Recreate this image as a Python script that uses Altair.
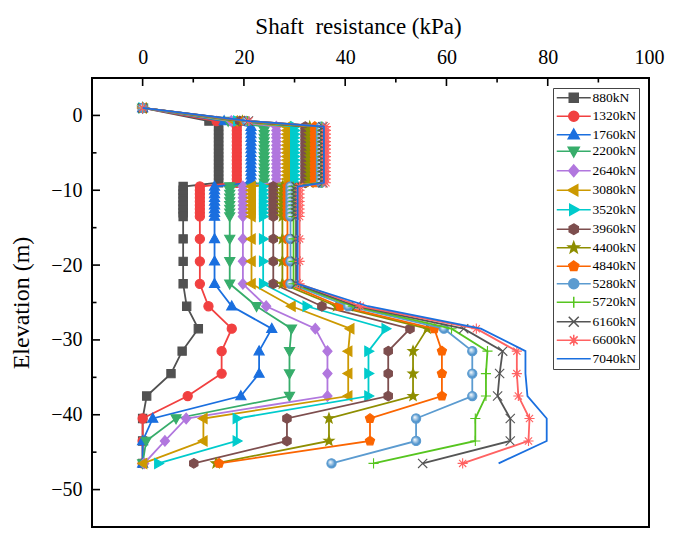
import altair as alt
import pandas as pd

loads = ["880kN", "1320kN", "1760kN", "2200kN", "2640kN", "3080kN", "3520kN", "3960kN",
         "4400kN", "4840kN", "5280kN", "5720kN", "6160kN", "6600kN", "7040kN"]
colors = ["#515151", "#F14040", "#1A6FDF", "#37AD6B", "#B177DE", "#CC9900", "#00CBCC", "#7D4E4E",
          "#8E8E00", "#FB6501", "#5B9BD0", "#56C51F", "#555555", "#FF6262", "#1A6FDF"]

elevations = [1.0, -0.75,
              -1.5, -2.0, -2.5, -3.0, -3.5, -4.0, -4.5, -5.0, -5.5, -6.0, -6.5, -7.0, -7.5, -8.0, -8.5, -9.0,
              -9.5, -10.0, -10.5, -11.0, -11.5, -12.0, -12.5, -13.0, -13.5,
              -16.5, -19.5, -22.5, -25.5, -28.5, -31.5, -34.5, -37.5, -40.5, -43.5, -46.5]

s880 = [0.0, 13.1,
        15.0, 15.0, 15.0, 15.0, 15.0, 15.0, 15.0, 15.0, 15.0, 15.0, 15.0, 15.0, 15.0, 15.0, 15.0, 15.0,
        8.0, 8.0, 8.0, 8.0, 8.0, 8.0, 8.0, 8.0, 8.0,
        8.0, 8.0, 8.0, 8.7, 11.0, 7.8, 5.6, 0.8, 0.0, 0.0, 0.0]
s1320 = [0.0, 14.6,
         18.6, 18.6, 18.6, 18.6, 18.6, 18.6, 18.6, 18.6, 18.6, 18.6, 18.6, 18.6, 18.6, 18.6, 18.6, 18.6,
         11.3, 11.3, 11.3, 11.3, 11.3, 11.3, 11.3, 11.3, 11.3,
         11.3, 11.3, 11.3, 13.0, 17.6, 15.6, 15.6, 8.9, 0.0, 0.0, 0.0]
s1760 = [0.0, 16.1,
         21.4, 21.4, 21.4, 21.4, 21.4, 21.4, 21.4, 21.4, 21.4, 21.4, 21.4, 21.4, 21.4, 21.4, 21.4, 21.4,
         14.2, 14.2, 14.2, 14.2, 14.2, 14.2, 14.2, 14.2, 14.2,
         14.2, 14.2, 14.2, 17.6, 25.5, 23.0, 23.0, 19.4, 2.0, 0.0, 0.0]
s2200 = [0.0, 16.9,
         24.0, 24.0, 24.0, 24.0, 24.0, 24.0, 24.0, 24.0, 24.0, 24.0, 24.0, 24.0, 24.0, 24.0, 24.0, 24.0,
         17.2, 17.2, 17.2, 17.2, 17.2, 17.2, 17.2, 17.2, 17.2,
         17.2, 17.2, 17.2, 22.5, 29.4, 29.0, 29.0, 29.0, 6.6, 0.7, 0.0]
s2640 = [0.0, 17.5,
         26.4, 26.4, 26.4, 26.4, 26.4, 26.4, 26.4, 26.4, 26.4, 26.4, 26.4, 26.4, 26.4, 26.4, 26.4, 26.4,
         19.8, 19.8, 19.8, 19.8, 19.8, 19.8, 19.8, 19.8, 19.8,
         19.8, 19.8, 19.8, 24.4, 34.1, 36.5, 36.5, 36.5, 8.6, 4.4, 0.3]
s3080 = [0.0, 18.0,
         28.5, 28.5, 28.5, 28.5, 28.5, 28.5, 28.5, 28.5, 28.5, 28.5, 28.5, 28.5, 28.5, 28.5, 28.5, 28.5,
         21.5, 21.5, 21.5, 21.5, 21.5, 21.5, 21.5, 21.5, 21.5,
         21.5, 21.5, 21.5, 29.4, 41.0, 40.6, 40.6, 40.6, 12.0, 12.0, 0.1]
s3520 = [0.0, 18.7,
         30.0, 30.0, 30.0, 30.0, 30.0, 30.0, 30.0, 30.0, 30.0, 30.0, 30.0, 30.0, 30.0, 30.0, 30.0, 30.0,
         23.8, 23.8, 23.8, 23.8, 23.8, 23.8, 23.8, 23.8, 23.8,
         23.8, 23.8, 23.8, 32.4, 48.0, 44.6, 44.6, 44.6, 18.6, 18.6, 3.1]
s3960 = [0.0, 19.2,
         32.1, 32.1, 32.1, 32.1, 32.1, 32.1, 32.1, 32.1, 32.1, 32.1, 32.1, 32.1, 32.1, 32.1, 32.1, 32.1,
         25.8, 25.8, 25.8, 25.8, 25.8, 25.8, 25.8, 25.8, 25.8,
         25.8, 25.8, 25.8, 35.4, 52.8, 48.5, 48.5, 48.5, 28.5, 28.5, 10.1]
s4400 = [0.0, 19.7,
         33.0, 33.0, 33.0, 33.0, 33.0, 33.0, 33.0, 33.0, 33.0, 33.0, 33.0, 33.0, 33.0, 33.0, 33.0, 33.0,
         27.6, 27.6, 27.6, 27.6, 27.6, 27.6, 27.6, 27.6, 27.6,
         27.6, 27.6, 27.6, 38.3, 56.2, 53.4, 53.4, 53.4, 36.8, 36.8, 14.5]
s4840 = [0.0, 20.1,
         34.0, 34.0, 34.0, 34.0, 34.0, 34.0, 34.0, 34.0, 34.0, 34.0, 34.0, 34.0, 34.0, 34.0, 34.0, 34.0,
         28.6, 28.6, 28.6, 28.6, 28.6, 28.6, 28.6, 28.6, 28.6,
         28.6, 28.6, 28.6, 39.0, 57.6, 59.1, 59.1, 59.1, 44.9, 44.9, 15.1]
s5280 = [0.0, 20.5,
         35.2, 35.2, 35.2, 35.2, 35.2, 35.2, 35.2, 35.2, 35.2, 35.2, 35.2, 35.2, 35.2, 35.2, 35.2, 35.2,
         29.2, 29.2, 29.2, 29.2, 29.2, 29.2, 29.2, 29.2, 29.2,
         29.2, 29.2, 29.2, 40.6, 59.5, 65.1, 65.1, 65.1, 54.0, 54.0, 37.3]
s5720 = [0.0, 20.7,
         35.4, 35.4, 35.4, 35.4, 35.4, 35.4, 35.4, 35.4, 35.4, 35.4, 35.4, 35.4, 35.4, 35.4, 35.4, 35.4,
         29.8, 29.8, 29.8, 29.8, 29.8, 29.8, 29.8, 29.8, 29.8,
         29.8, 29.8, 29.8, 41.5, 61.0, 68.1, 67.8, 67.8, 65.7, 65.7, 45.6]
s6160 = [0.0, 20.9,
         35.6, 35.6, 35.6, 35.6, 35.6, 35.6, 35.6, 35.6, 35.6, 35.6, 35.6, 35.6, 35.6, 35.6, 35.6, 35.6,
         30.3, 30.3, 30.3, 30.3, 30.3, 30.3, 30.3, 30.3, 30.3,
         30.3, 30.3, 30.3, 42.2, 63.4, 71.1, 70.5, 70.1, 72.6, 72.6, 55.3]
s6600 = [0.0, 21.0,
         36.2, 36.2, 36.2, 36.2, 36.2, 36.2, 36.2, 36.2, 36.2, 36.2, 36.2, 36.2, 36.2, 36.2, 36.2, 36.2,
         31.0, 31.0, 31.0, 31.0, 31.0, 31.0, 31.0, 31.0, 31.0,
         31.0, 31.0, 31.0, 43.0, 65.9, 73.9, 73.9, 74.2, 76.4, 76.2, 63.2]
s7040 = [0.0, 21.2,
         35.8, 35.8, 35.8, 35.8, 35.8, 35.8, 35.8, 35.8, 35.8, 35.8, 35.8, 35.8, 35.8, 35.8, 35.8, 35.8,
         30.6, 30.6, 30.6, 30.6, 30.6, 30.6, 30.6, 30.6, 30.6,
         30.6, 30.6, 30.6, 44.5, 66.8, 75.6, 75.6, 76.0, 79.8, 79.8, 70.3]
series_values = [s880, s1320, s1760, s2200, s2640, s3080, s3520, s3960,
                 s4400, s4840, s5280, s5720, s6160, s6600, s7040]

x_labels = [0, 20, 40, 60, 80, 100]
y_labels = [0, -10, -20, -30, -40, -50]
x_major_ticks = [0, 20, 40, 60, 80]
x_minor_ticks = [10, 30, 50, 70, 90]
y_major_ticks = [0, -10, -20, -30, -40, -50]
y_minor_ticks = [-5, -15, -25, -35, -45]

# marker glyphs (unit box paths)
marker_paths = [
    "M-0.9,-0.9H0.9V0.9H-0.9Z",
    "M1,0A1,1,0,1,1,-1,0A1,1,0,1,1,1,0Z",
    "M0,-1.15L1.1,0.8H-1.1Z",
    "M0,1.15L1.1,-0.8H-1.1Z",
    "M0,-1.15L1,0L0,1.15L-1,0Z",
    "M-1.15,0L0.8,-1.1V1.1Z",
    "M1.15,0L-0.8,-1.1V1.1Z",
    "M0,-1.05L0.91,-0.52V0.52L0,1.05L-0.91,0.52V-0.52Z",
    "M0,-1.15L0.282,-0.388L1.094,-0.355L0.456,0.148L0.676,0.93L0,0.48L-0.676,0.93L-0.456,0.148L-1.094,-0.355L-0.282,-0.388Z",
    "M0,-1.05L0.999,-0.324L0.617,0.849L-0.617,0.849L-0.999,-0.324Z",
    "M1,0A1,1,0,1,1,-1,0A1,1,0,1,1,1,0Z",
    "M-1.1,0H1.1M0,-1.1V1.1",
    "M-1,-1L1,1M-1,1L1,-1",
    "M0,-1.1V1.1M-1.1,0H1.1M-0.78,-0.78L0.78,0.78M-0.78,0.78L0.78,-0.78",
    "",
]
legend_segment = "M-3.4,0H3.4"
legend_paths = [legend_segment + p for p in marker_paths]

rows = []
for load, vals in zip(loads, series_values):
    for i, (e, v) in enumerate(zip(elevations, vals)):
        rows.append({"load": load, "i": i, "elev": e, "kpa": v})
df = pd.DataFrame(rows)

FONT = "Liberation Serif"
xscale = alt.Scale(domain=[-10, 100], nice=False, zero=False)
yscale = alt.Scale(domain=[-55, 5], nice=False, zero=False)
xaxis = alt.Axis(orient="top", values=x_labels, title="Shaft\u00a0 resistance (kPa)",
                 labelFont=FONT, titleFont=FONT, labelColor="black", titleColor="black",
                 titleFontWeight="normal", labelFontSize=20, titleFontSize=23,
                 labelPadding=11, titlePadding=9, labelFlush=False, titleX=266,
                 grid=False, domain=False, ticks=False)
yaxis = alt.Axis(orient="left", values=y_labels, title="Elevation (m)",
                 labelFont=FONT, titleFont=FONT, labelColor="black", titleColor="black",
                 titleFontWeight="normal", labelFontSize=20, titleFontSize=24,
                 labelPadding=10, titlePadding=17, labelFlush=False,
                 grid=False, domain=False, ticks=False)


def X(field):
    return alt.X(field, type="quantitative", scale=xscale, axis=xaxis)


def Y(field):
    return alt.Y(field, type="quantitative", scale=yscale, axis=yaxis)


layers = []
for k, load in enumerate(loads):
    base = alt.Chart().transform_filter(alt.datum.load == load)
    layers.append(base.mark_line(color=colors[k], strokeWidth=1.8).encode(
        x=X("kpa"), y=Y("elev"), order=alt.Order("i:Q")))
    if marker_paths[k]:
        if load == "5280kN":
            fill = alt.Gradient(gradient="radial",
                                stops=[alt.GradientStop(color="#FFFFFF", offset=0),
                                       alt.GradientStop(color="#4F93CC", offset=0.7)],
                                x1=0.35, y1=0.35, r1=0, x2=0.5, y2=0.5, r2=0.6)
        else:
            fill = colors[k]
        layers.append(base.mark_point(shape=marker_paths[k], filled=True, fill=fill,
                                      stroke=colors[k], strokeWidth=1.1, size=85, opacity=1).encode(
            x=X("kpa"), y=Y("elev")))

tick_x_major = alt.Chart(pd.DataFrame({"v": x_major_ticks})).mark_rule(color="black", strokeWidth=1.6).encode(
    x=X("v"), y=alt.value(0), y2=alt.value(8))
tick_x_minor = alt.Chart(pd.DataFrame({"v": x_minor_ticks})).mark_rule(color="black", strokeWidth=1.6).encode(
    x=X("v"), y=alt.value(0), y2=alt.value(4.5))
tick_y_major = alt.Chart(pd.DataFrame({"v": y_major_ticks})).mark_rule(color="black", strokeWidth=1.6).encode(
    y=Y("v"), x=alt.value(0), x2=alt.value(8))
tick_y_minor = alt.Chart(pd.DataFrame({"v": y_minor_ticks})).mark_rule(color="black", strokeWidth=1.6).encode(
    y=Y("v"), x=alt.value(0), x2=alt.value(4.5))

leg = alt.Legend(title=None, orient="none", legendX=461, legendY=10,
                 labelFont=FONT, labelFontSize=13.5, labelColor="black",
                 symbolSize=100, symbolStrokeWidth=1.5, symbolOffset=11, labelOffset=12,
                 symbolOpacity=1, rowPadding=1.5, padding=3, fillColor="white",
                 strokeColor="#444444")
legend_layer = alt.Chart(pd.DataFrame({"load": loads})).mark_point(
    filled=True, strokeWidth=1.5, opacity=1).encode(
    x=X("kpa"), y=Y("elev"),
    fill=alt.Fill("load:N", scale=alt.Scale(domain=loads, range=colors), legend=leg),
    stroke=alt.Stroke("load:N", scale=alt.Scale(domain=loads, range=colors), legend=leg),
    shape=alt.Shape("load:N", scale=alt.Scale(domain=loads, range=legend_paths), legend=leg),
)

chart = alt.layer(*layers, tick_x_major, tick_x_minor, tick_y_major, tick_y_minor, legend_layer,
                  data=df).properties(
    width=557, height=449,
    background="white",
    autosize=alt.AutoSizeParams(type="none"),
    padding={"left": 84, "top": 70, "right": 16, "bottom": 2},
).configure_view(stroke="black", strokeWidth=2)

chart.save("out.html", embed_options={"renderer": "svg", "actions": False})
